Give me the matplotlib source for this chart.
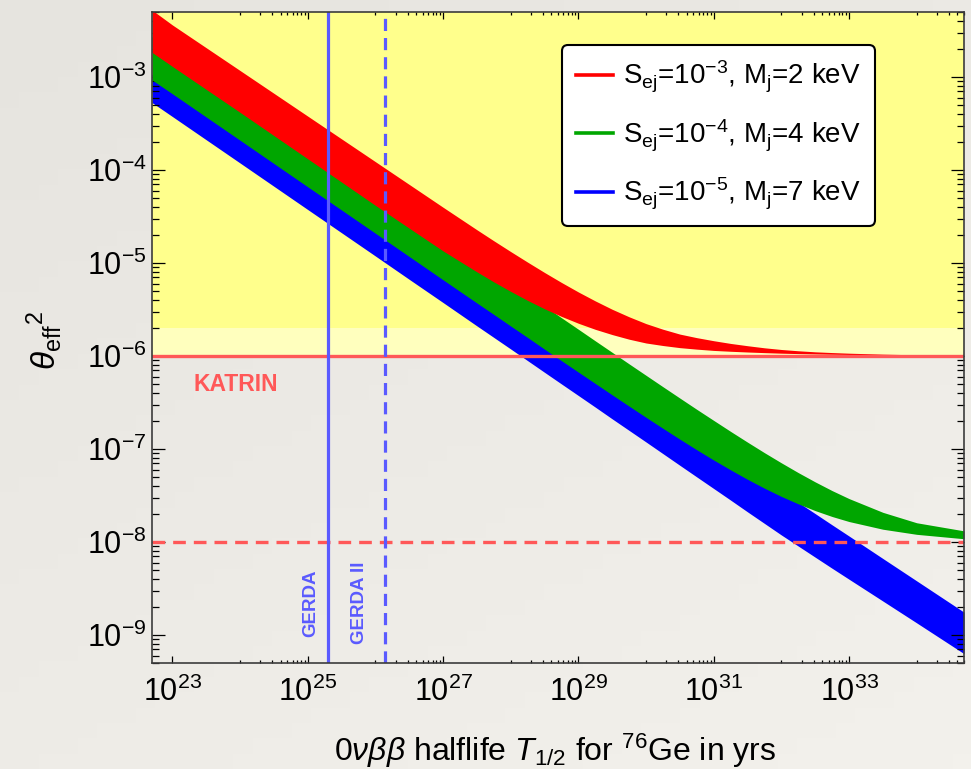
import numpy as np
import matplotlib
matplotlib.use('Agg')
import matplotlib.pyplot as plt
from matplotlib.lines import Line2D
from matplotlib.colors import LinearSegmentedColormap
from matplotlib.ticker import FixedLocator, FuncFormatter, NullFormatter

base_font = 'Liberation Sans'
plt.rcParams['font.family'] = [base_font, 'DejaVu Sans']
plt.rcParams['mathtext.fontset'] = 'custom'
plt.rcParams['mathtext.rm'] = base_font
plt.rcParams['mathtext.it'] = base_font + ':italic'
plt.rcParams['mathtext.bf'] = base_font + ':bold'

# 0vbb half-life of Ge-76 (yrs)
halflife = [5e22, 1e23, 1e24, 1e25, 1e26, 3.16e26, 1e27, 3.16e27, 5.62e27, 1e28, 1.78e28,
            3.16e28, 5.62e28, 1e29, 1.78e29, 3.16e29, 5.62e29, 1e30, 1.78e30, 3.16e30,
            5.62e30, 1e31, 1.78e31, 3.16e31, 5.62e31, 1e32, 1.78e32, 3.16e32, 5.62e32,
            1e33, 3.16e33, 1e34, 5e34]

# theta_eff^2 bands, upper and lower edge
red_upper = [5.25e-3, 3.63e-3, 1.175e-3, 3.80e-4, 1.23e-4, 7.0e-5, 3.98e-5, 2.28e-5,
             1.735e-5, 1.327e-5, 1.021e-5, 7.91e-6, 6.18e-6, 4.88e-6, 3.91e-6, 3.18e-6,
             2.64e-6, 2.23e-6, 1.94e-6, 1.72e-6, 1.575e-6, 1.46e-6, 1.365e-6, 1.29e-6,
             1.225e-6, 1.175e-6, 1.138e-6, 1.109e-6, 1.089e-6, 1.072e-6, 1.047e-6,
             1.030e-6, 1.019e-6]
red_lower = [1.84e-3, 1.30e-3, 4.17e-4, 1.32e-4, 4.17e-5, 2.37e-5, 1.35e-5, 8.04e-6,
             6.27e-6, 4.95e-6, 3.96e-6, 3.22e-6, 2.666e-6, 2.25e-6, 1.935e-6, 1.70e-6,
             1.516e-6, 1.38e-6, 1.296e-6, 1.23e-6, 1.185e-6, 1.148e-6, 1.124e-6, 1.104e-6,
             1.087e-6, 1.072e-6, 1.061e-6, 1.052e-6, 1.0445e-6, 1.038e-6, 1.028e-6,
             1.019e-6, 1.012e-6]
green_upper = [2.72e-3, 1.93e-3, 6.1e-4, 1.93e-4, 6.1e-5, 3.43e-5, 1.93e-5, 1.086e-5,
               8.14e-6, 6.11e-6, 4.58e-6, 3.44e-6, 2.58e-6, 1.94e-6, 1.455e-6, 1.095e-6,
               8.23e-7, 6.2e-7, 4.67e-7, 3.53e-7, 2.67e-7, 2.03e-7, 1.545e-7, 1.185e-7,
               9.13e-8, 7.1e-8, 5.57e-8, 4.43e-8, 3.57e-8, 2.93e-8, 2.085e-8, 1.61e-8,
               1.318e-8]
green_lower = [9.3e-4, 6.6e-4, 2.09e-4, 6.6e-5, 2.09e-5, 1.175e-5, 6.6e-6, 3.72e-6,
               2.80e-6, 2.10e-6, 1.58e-6, 1.185e-6, 8.91e-7, 6.71e-7, 5.06e-7, 3.82e-7,
               2.89e-7, 2.19e-7, 1.667e-7, 1.275e-7, 9.81e-8, 7.61e-8, 5.96e-8, 4.72e-8,
               3.79e-8, 3.09e-8, 2.57e-8, 2.175e-8, 1.88e-8, 1.66e-8, 1.372e-8, 1.209e-8,
               1.084e-8]
blue_upper = [1.07e-3, 7.66e-4, 2.52e-4, 8.32e-5, 2.74e-5, 1.574e-5, 9.03e-6, 5.19e-6,
              3.93e-6, 2.98e-6, 2.257e-6, 1.71e-6, 1.295e-6, 9.82e-7, 7.44e-7, 5.64e-7,
              4.27e-7, 3.24e-7, 2.452e-7, 1.86e-7, 1.408e-7, 1.067e-7, 8.08e-8, 6.12e-8,
              4.64e-8, 3.52e-8, 2.665e-8, 2.02e-8, 1.529e-8, 1.16e-8, 6.65e-9, 3.82e-9,
              1.76e-9]
blue_lower = [5.31e-4, 3.76e-4, 1.19e-4, 3.76e-5, 1.19e-5, 6.68e-6, 3.76e-6, 2.11e-6,
              1.585e-6, 1.19e-6, 8.91e-7, 6.68e-7, 5.01e-7, 3.76e-7, 2.82e-7, 2.11e-7,
              1.585e-7, 1.19e-7, 8.91e-8, 6.68e-8, 5.01e-8, 3.76e-8, 2.82e-8, 2.11e-8,
              1.585e-8, 1.19e-8, 9.04e-9, 6.87e-9, 5.22e-9, 3.98e-9, 2.32e-9, 1.35e-9,
              6.3e-10]

band_labels = [r'S$_\mathregular{ej}$=10$^{\mathregular{-3}}$, M$_\mathregular{j}$=2 keV',
               r'S$_\mathregular{ej}$=10$^{\mathregular{-4}}$, M$_\mathregular{j}$=4 keV',
               r'S$_\mathregular{ej}$=10$^{\mathregular{-5}}$, M$_\mathregular{j}$=7 keV']
band_colors = ['#FF0000', '#00A600', '#0000FF']

# experimental limits
katrin_now = 1e-6
katrin_future = 1e-8
gerda = 2.0e25
gerda_2 = 1.4e26
yellow_top = 2e-6

fig = plt.figure(figsize=(9.71, 7.69), dpi=100)

# paper-like backdrop
bg = fig.add_axes([0, 0, 1, 1], zorder=-10)
paper = LinearSegmentedColormap.from_list('paper', ['#F3F1EC', '#E6E4DF'])
gx, gy = np.meshgrid(np.linspace(0, 1, 50), np.linspace(0, 1, 50))
bg.imshow(0.6 * gy + 0.4 * (1 - gx), cmap=paper, aspect='auto', origin='lower',
          extent=[0, 1, 0, 1])
bg.axis('off')

ax = fig.add_axes([152 / 971, 1 - 663 / 769, 812 / 971, 651 / 769])
ax.patch.set_alpha(0)
ax.set_xscale('log')
ax.set_yscale('log')
ax.set_xlim(5e22, 5e34)
ax.set_ylim(5e-10, 5e-3)

# allowed regions
ax.axhspan(yellow_top, 5e-3, color='#FFFF8C', lw=0, zorder=0)
ax.axhspan(katrin_now, yellow_top, color='#FFFFBE', lw=0, zorder=0)

ax.fill_between(halflife, blue_lower, blue_upper, color=band_colors[2], lw=0, zorder=1)
ax.fill_between(halflife, green_lower, green_upper, color=band_colors[1], lw=0, zorder=2)
ax.fill_between(halflife, red_lower, red_upper, color=band_colors[0], lw=0, zorder=3)

line_red = '#FF5858'
line_blue = '#5A5AFF'
ax.axhline(katrin_now, color=line_red, lw=2.4, zorder=4)
ax.axhline(katrin_future, color=line_red, lw=2.4, ls=(0, (3.8, 2.4)), zorder=4)
ax.axvline(gerda, color=line_blue, lw=2.3, zorder=5)
ax.axvline(gerda_2, color=line_blue, lw=2.3, ls=(0, (3.8, 2.2)), zorder=5)

ax.text(8.5e23, 4.95e-7, 'KATRIN', color=line_red, fontsize=16.5, fontweight='bold',
        ha='center', va='center', zorder=6)
ax.text(1.1e25, 2.2e-9, 'GERDA', color=line_blue, fontsize=13.5, fontweight='bold',
        rotation=90, ha='center', va='center', zorder=6)
ax.text(5.8e25, 2.2e-9, 'GERDA II', color=line_blue, fontsize=13.5, fontweight='bold',
        rotation=90, ha='center', va='center', zorder=6)

# ticks: majors every second decade on x, minors only in the decade below each major
decade_label = FuncFormatter(lambda v, p: r'$\mathregular{10^{%d}}$' % round(np.log10(v)))
ax.xaxis.set_major_locator(FixedLocator([10.0 ** e for e in range(23, 34, 2)]))
ax.xaxis.set_minor_locator(FixedLocator([k * 10.0 ** e for e in range(24, 35, 2)
                                         for k in range(1, 10)]))
ax.xaxis.set_major_formatter(decade_label)
ax.xaxis.set_minor_formatter(NullFormatter())
ax.yaxis.set_major_locator(FixedLocator([10.0 ** e for e in range(-9, -2)]))
ax.yaxis.set_minor_locator(FixedLocator([k * 10.0 ** e for e in range(-10, -2)
                                         for k in range(2, 10)]))
ax.yaxis.set_major_formatter(decade_label)
ax.yaxis.set_minor_formatter(NullFormatter())

ax.tick_params(which='both', direction='in', top=True, right=True, width=0.9,
               labelsize=22, colors='black')
ax.tick_params(axis='x', which='major', length=5, pad=10)
ax.tick_params(axis='x', which='minor', length=2.5)
ax.tick_params(axis='y', which='major', length=9.5, pad=4)
ax.tick_params(axis='y', which='minor', length=5)
for side in ax.spines.values():
    side.set_color('#3C3C3C')
    side.set_linewidth(1.2)
    side.set_zorder(7)

ax.set_xlabel(r'0$\nu\beta\beta$ halflife $T_{\mathregular{1/2}}$ for $^{\mathregular{76}}$Ge in yrs',
              fontsize=23)
ax.xaxis.set_label_coords(0.497, -0.105)
ax.set_ylabel(r'$\theta_{\mathregular{eff}}{}^{\mathregular{2}}$', fontsize=24)
ax.yaxis.set_label_coords(-0.108, 0.496)

handles = [Line2D([], [], color=c, lw=2.6) for c in band_colors]
leg = ax.legend(handles, band_labels, loc='upper left', bbox_to_anchor=(0.505, 0.949),
                borderaxespad=0, fontsize=20, handlelength=1.35, handletextpad=0.35,
                labelspacing=0.8, borderpad=0.5, fancybox=True, framealpha=1,
                edgecolor='black')
leg.get_frame().set_linewidth(1.5)
leg.set_zorder(8)

fig.savefig('out.png', dpi=100)
